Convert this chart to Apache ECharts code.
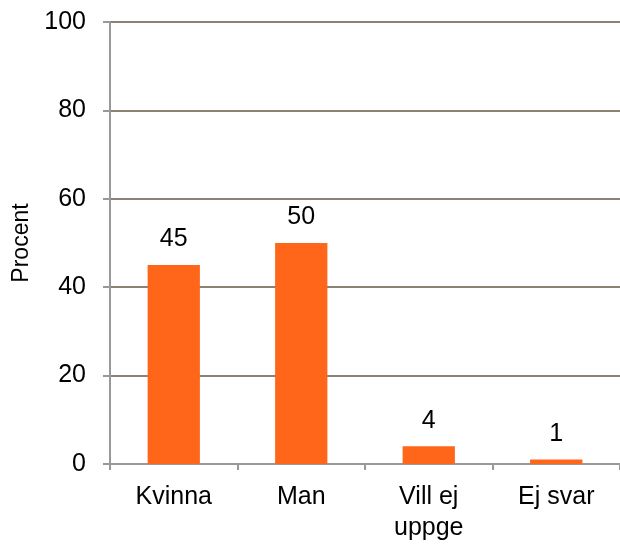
<!DOCTYPE html>
<html>
<head>
<meta charset="utf-8">
<script src="https://cdn.jsdelivr.net/npm/echarts@6/dist/echarts.min.js"></script>
<style>
  html, body { margin: 0; padding: 0; background: #fff; }
  #chart { width: 620px; height: 544px; }
</style>
</head>
<body>
<div id="chart"></div>
<script>
const categories = ['Kvinna', 'Man', 'Vill ej\nuppge', 'Ej svar']
const values = [45, 50, 4, 1]
const yTicks = [0, 20, 40, 60, 80, 100]

const chart = echarts.init(document.getElementById('chart'))
const font = 'Liberation Sans'

chart.setOption({
  animation: false,
  grid: { left: 110, right: 0, top: 22, bottom: 80, outerBoundsMode: 'none' },
  xAxis: {
    type: 'category',
    data: categories,
    axisLine: { lineStyle: { color: '#999999', width: 2 } },
    axisTick: { show: true, length: 6, lineStyle: { color: '#999999', width: 2 } },
    axisLabel: { color: '#000', fontSize: 25, fontFamily: font, margin: 18, lineHeight: 31 }
  },
  yAxis: {
    type: 'value',
    min: yTicks[0],
    max: yTicks[yTicks.length - 1],
    interval: 20,
    name: 'Procent',
    nameLocation: 'middle',
    nameRotate: 90,
    nameGap: 77,
    nameTextStyle: { color: '#000', fontSize: 23, fontFamily: font },
    axisLine: { show: true, lineStyle: { color: '#999999', width: 2 } },
    axisTick: { show: true, length: 7, lineStyle: { color: '#999999', width: 2 } },
    axisLabel: { color: '#000', fontSize: 25, fontFamily: font, margin: 24 },
    splitLine: { lineStyle: { color: '#8c8273', width: 2 } }
  },
  series: [{
    type: 'bar',
    data: values,
    barWidth: '41%',
    itemStyle: { color: '#ff6619' },
    label: {
      show: true,
      position: 'top',
      distance: 13,
      color: '#000',
      fontSize: 25,
      fontFamily: font
    }
  }]
})
</script>
</body>
</html>
